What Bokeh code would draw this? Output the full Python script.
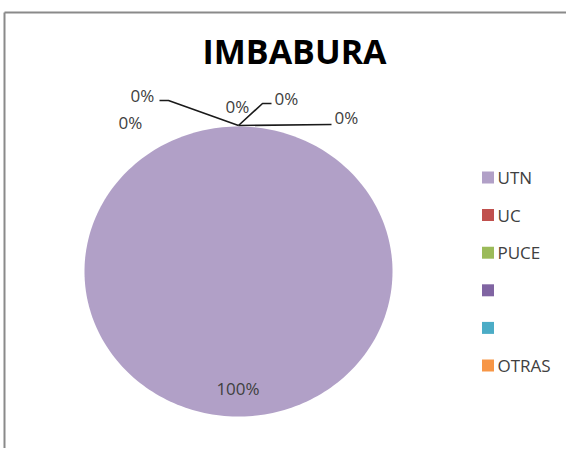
import numpy as np
from bokeh.plotting import figure
from bokeh.models import Range1d, ColumnDataSource
from bokeh.core.properties import value
from bokeh.embed import file_html
from bokeh.resources import INLINE

# ---- data ----
title = "IMBABURA"
categories = ["UTN", "UC", "PUCE", "", "", "OTRAS"]
values = [100, 0, 0, 0, 0, 0]
colors = ["#B1A0C7", "#C0504D", "#9BBB59", "#8064A2", "#4BACC6", "#F79646"]

# ---- layout (screen pixel coords) ----
W, H = 566, 448
cx, cy, rx, ry = 238, 271, 154, 145
FONT = "Open Sans"

p = figure(width=W, height=H, output_backend="svg", toolbar_location=None,
           x_range=Range1d(0, W), y_range=Range1d(H, 0),
           min_border=0, outline_line_color=None)
p.axis.visible = False
p.grid.visible = False
p.background_fill_color = "white"
p.border_fill_color = "white"

# frame border (top + left)
p.line([4, W], [12, 12], line_color="#8a8a8a", line_width=2)
p.line([4, 4], [12, H], line_color="#8a8a8a", line_width=2)

# pie (slightly elliptical as in the reference), start at 12 o'clock, clockwise
total = float(sum(values))
fr = np.array(values, dtype=float) / total
cum = np.concatenate([[0.0], np.cumsum(fr)])
xs, ys, cs = [], [], []
for i, f in enumerate(fr):
    if f <= 0:
        continue
    t = np.linspace(cum[i], cum[i + 1], 240) * 2 * np.pi
    px = cx + rx * np.sin(t)
    py = cy - ry * np.cos(t)
    if f < 1:
        px = np.concatenate([[cx], px])
        py = np.concatenate([[cy], py])
    xs.append(list(px)); ys.append(list(py)); cs.append(colors[i])
p.patches(xs, ys, fill_color=cs, line_color=None)

# percentage labels
pct = [f"{round(v / total * 100)}%" for v in values]
# label centre positions for each category (layout)
lab_pos = [(237.5, 387.5), (142, 95), (130, 121.5), (237, 105.5), (286, 97.5), (346, 116.5)]
lsrc = ColumnDataSource(dict(x=[q[0] for q in lab_pos], y=[q[1] for q in lab_pos], t=pct))
p.text("x", "y", text="t", source=lsrc, text_font=value(FONT), text_font_size="17px",
       text_color="#404040", text_align="center", text_baseline="middle")

# leader lines for zero slices (layout)
anchor = (238, 125)
p.line([anchor[0], 168, 159], [anchor[1], 100, 100], line_color="#1a1a1a", line_width=1.6)
p.line([anchor[0], 262, 271], [anchor[1], 103, 103], line_color="#1a1a1a", line_width=1.6)
p.line([anchor[0], 331], [anchor[1], 124], line_color="#1a1a1a", line_width=1.6)

# title
p.text([294], [50.5], text=[title], text_font=value(FONT), text_font_size="34px",
       text_font_style="bold", text_color="#000000", text_align="center",
       text_baseline="middle")

# legend
leg_y0, leg_dy = 177, 37.6
ly = [leg_y0 + i * leg_dy for i in range(len(categories))]
p.rect([487.5] * len(categories), ly, width=12, height=12, width_units="screen",
       height_units="screen", fill_color=colors, line_color=None)
p.text([497] * len(categories), ly, text=categories, text_font=value(FONT),
       text_font_size="17px", text_color="#404040", text_align="left",
       text_baseline="middle")

open("out.html", "w").write(file_html(p, INLINE))
